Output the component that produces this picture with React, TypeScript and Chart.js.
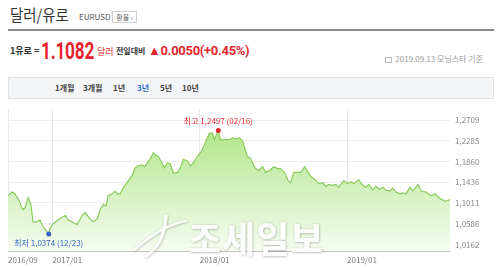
import React, { useEffect, useRef } from "react";
import { Chart, registerables } from "chart.js";
Chart.register(...registerables);

const dates = [
  "2016-09-13","2016-09-23","2016-09-30","2016-10-08","2016-10-20","2016-10-25","2016-11-02","2016-11-09","2016-11-14","2016-11-24",
  "2016-12-01","2016-12-09","2016-12-23","2016-12-26","2017-01-03","2017-01-15","2017-02-02","2017-02-09","2017-02-19","2017-03-03",
  "2017-03-16","2017-03-23","2017-04-05","2017-04-12","2017-04-22","2017-04-29","2017-05-07","2017-05-14","2017-05-19","2017-05-29",
  "2017-06-05","2017-06-11","2017-06-18","2017-06-26","2017-07-05","2017-07-18","2017-07-25","2017-08-02","2017-08-12","2017-08-17",
  "2017-08-24","2017-09-01","2017-09-08","2017-09-13","2017-09-20","2017-09-30","2017-10-05","2017-10-13","2017-10-20","2017-10-28",
  "2017-11-07","2017-11-14","2017-11-22","2017-12-02","2017-12-09","2017-12-16","2017-12-26","2018-01-03","2018-01-10","2018-01-20",
  "2018-01-25","2018-02-02","2018-02-06","2018-02-16","2018-02-21","2018-03-06","2018-03-16","2018-03-23","2018-03-30","2018-04-09",
  "2018-04-17","2018-04-29","2018-05-07","2018-05-19","2018-05-27","2018-06-06","2018-06-13","2018-06-23","2018-07-03","2018-07-13",
  "2018-07-20","2018-07-30","2018-08-07","2018-08-14","2018-08-22","2018-09-01","2018-09-08","2018-09-18","2018-09-28","2018-10-05",
  "2018-10-15","2018-10-23","2018-11-02","2018-11-09","2018-11-17","2018-11-27","2018-12-04","2018-12-11","2018-12-24","2019-01-03",
  "2019-01-10","2019-01-18","2019-01-30","2019-02-07","2019-02-16","2019-02-24","2019-03-06","2019-03-13","2019-03-23","2019-03-31",
  "2019-04-07","2019-04-17","2019-04-24","2019-05-02","2019-05-12","2019-05-19","2019-05-27","2019-06-06","2019-06-13","2019-06-26",
  "2019-07-03","2019-07-15","2019-07-28","2019-08-07","2019-08-19","2019-09-01","2019-09-13"
];

const rates = [
  1.1160,1.1237,1.1199,1.1103,1.0873,1.0912,1.1122,1.0969,1.0625,1.0625,
  1.0663,1.0529,1.0374,1.0491,1.0587,1.0663,1.0759,1.0663,1.0625,1.0568,
  1.0759,1.0816,1.0682,1.0625,1.0682,1.0873,1.0988,1.0950,1.1160,1.1199,
  1.1256,1.1199,1.1199,1.1332,1.1428,1.1581,1.1734,1.1772,1.1791,1.1753,
  1.1829,1.1925,1.2040,1.2002,1.1963,1.1829,1.1734,1.1829,1.1810,1.1619,
  1.1638,1.1734,1.1906,1.1868,1.1772,1.1829,1.1963,1.2040,1.2155,1.2346,
  1.2441,1.2441,1.2307,1.2497,1.2307,1.2307,1.2307,1.2346,1.2327,1.2346,
  1.2288,1.1963,1.1925,1.1715,1.1677,1.1753,1.1638,1.1677,1.1753,1.1715,
  1.1715,1.1638,1.1485,1.1428,1.1638,1.1638,1.1638,1.1753,1.1619,1.1543,
  1.1485,1.1409,1.1428,1.1351,1.1390,1.1371,1.1390,1.1332,1.1466,1.1409,
  1.1447,1.1409,1.1485,1.1390,1.1332,1.1390,1.1275,1.1351,1.1294,1.1332,
  1.1275,1.1256,1.1313,1.1237,1.1199,1.1218,1.1199,1.1332,1.1256,1.1390,
  1.1256,1.1237,1.1160,1.1199,1.1103,1.1046,1.1082
];

const yTicks = [1.2709, 1.2285, 1.1860, 1.1436, 1.1011, 1.0586, 1.0162];
const xTickDates = ["2016-09-13", "2017-01-01", "2018-01-01", "2019-01-01"];
const xTickLabels = ["2016/09", "2017/01", "2018/01", "2019/01"];
const periodTabs = ["1개월", "3개월", "1년", "3년", "5년", "10년"];
const activeTab = "3년";
const peakPoint = { date: "2018-02-16", value: 1.2497, label: "최고 1,2497 (02/16)" };
const lowPoint = { date: "2016-12-23", value: 1.0374, label: "최저 1,0374 (12/23)" };
const startDate = "2016-09-13";
const endDate = "2019-09-13";

function dayOf(s: string): number {
  const [y, m, d] = s.split("-").map(Number);
  const [y0, m0, d0] = startDate.split("-").map(Number);
  return (Date.UTC(y, m - 1, d) - Date.UTC(y0, m0 - 1, d0)) / 86400000;
}

const FONT = '"Noto Sans CJK KR", "Noto Sans", sans-serif';

const markerPlugin = {
  id: "markers",
  afterDatasetsDraw(chart: any) {
    const { ctx, scales } = chart;
    const x = scales.x, y = scales.y;
    const draw = (m: any, color: string, above: boolean) => {
      const px = x.getPixelForValue(dayOf(m.date));
      const py = y.getPixelForValue(m.value);
      ctx.save();
      ctx.fillStyle = color;
      ctx.beginPath();
      ctx.arc(px, py, 2.5, 0, Math.PI * 2);
      ctx.fill();
      ctx.font = "8px " + FONT;
      ctx.textAlign = "center";
      ctx.textBaseline = "middle";
      ctx.fillText(m.label, px, above ? py - 9.5 : py + 9);
      ctx.restore();
    };
    draw(peakPoint, "#e5262f", true);
    draw(lowPoint, "#2f64c0", false);
  },
};

function RateChart() {
  const ref = useRef<HTMLCanvasElement | null>(null);
  useEffect(() => {
    if (!ref.current) return;
    const data = dates.map((d, i) => ({ x: dayOf(d), y: rates[i] }));
    const chart = new Chart(ref.current, {
      type: "line",
      data: {
        datasets: [
          {
            data,
            borderColor: "#8acb5c",
            borderWidth: 1.2,
            pointRadius: 0,
            tension: 0,
            fill: "start",
            backgroundColor: (c: any) => {
              const area = c.chart.chartArea;
              if (!area) return "#cdeeb4";
              const g = c.chart.ctx.createLinearGradient(0, area.top, 0, area.bottom);
              g.addColorStop(0, "#a6e27a");
              g.addColorStop(1, "#f6fcf1");
              return g;
            },
          },
        ],
      },
      options: {
        animation: false,
        responsive: false,
        maintainAspectRatio: false,
        layout: { padding: { left: 8, right: 0, top: 0, bottom: 0 } },
        plugins: { legend: { display: false }, tooltip: { enabled: false } },
        scales: {
          x: {
            type: "linear",
            min: 0,
            max: dayOf(endDate),
            afterBuildTicks: (s: any) => {
              s.ticks = xTickDates.map((d) => ({ value: dayOf(d) }));
            },
            afterFit: (s: any) => {
              s.height = 18;
            },
            grid: { color: "#e8e8e8", drawTicks: false },
            border: { display: true, color: "#c4c4c4" },
            ticks: {
              autoSkip: false,
              maxRotation: 0,
              align: "start",
              padding: 4,
              color: "#777",
              font: { family: FONT, size: 8 },
              callback: (_v: any, i: number) => xTickLabels[i],
            },
          },
          y: {
            position: "right",
            min: 1.0028,
            max: 1.2919,
            afterBuildTicks: (s: any) => {
              s.ticks = yTicks.map((v) => ({ value: v }));
            },
            afterFit: (s: any) => {
              s.width = 50;
            },
            grid: { color: "#eeeeee", drawTicks: false },
            border: { display: false },
            ticks: {
              padding: 5,
              color: "#888",
              font: { family: FONT, size: 8 },
              callback: (v: any) => Number(v).toFixed(4).replace(".", ","),
            },
          },
        },
      },
      plugins: [markerPlugin],
    } as any);
    return () => chart.destroy();
  }, []);
  return (
    <canvas
      ref={ref}
      width={500}
      height={169}
      style={{ position: "absolute", left: 0, top: 100, width: 500, height: 169 }}
    />
  );
}

const tabX = [55, 83, 113, 137, 160, 182];

export default function App() {
  const abs = (s: React.CSSProperties): React.CSSProperties => ({ position: "absolute", whiteSpace: "nowrap", ...s });
  return (
    <div style={{ position: "absolute", left: 0, top: 0, width: 500, height: 269, background: "#fff", overflow: "hidden", fontFamily: FONT }}>
      <div style={abs({ left: 10, top: 3, fontSize: 16, lineHeight: "22px", color: "#333", transform: "scaleX(0.9)", transformOrigin: "left" })}>달러/유로</div>
      <div style={abs({ left: 79, top: 11, fontSize: 8, lineHeight: "12px", color: "#555" })}>EURUSD</div>
      <div style={abs({ left: 112, top: 11, width: 25, height: 12, boxSizing: "border-box", border: "1px solid #cfcfcf", fontSize: 7, lineHeight: "10px", color: "#666", textAlign: "center" })}>환율 ›</div>
      <div style={abs({ left: 8, top: 29, width: 486, height: 2, background: "#8c8c8c" })} />

      <div style={abs({ left: 10, top: 45, fontSize: 9, fontWeight: 700, lineHeight: "12px", color: "#333" })}>1유로 =</div>
      <div style={abs({ left: 41, top: 39, fontSize: 23, fontWeight: 700, lineHeight: "26px", color: "#e5262f", fontFamily: "Roboto, sans-serif", transform: "scaleX(0.75)", transformOrigin: "left", letterSpacing: "-0.3px" })}>1.1082</div>
      <div style={abs({ left: 97, top: 46, fontSize: 9, lineHeight: "12px", color: "#e5262f" })}>달러</div>
      <div style={abs({ left: 116, top: 45, fontSize: 8, fontWeight: 700, lineHeight: "12px", color: "#333" })}>전일대비</div>
      <div style={abs({ left: 148, top: 43, fontSize: 13, fontWeight: 700, lineHeight: "16px", color: "#e5262f", fontFamily: "Roboto, sans-serif", letterSpacing: "-0.3px" })}>▲0.0050(+0.45%)</div>
      <div style={abs({ right: 17, top: 53, fontSize: 8, lineHeight: "11px", color: "#999" })}>
        <span style={{ display: "inline-block", width: 7, height: 6, border: "1px solid #bbb", marginRight: 3, verticalAlign: "middle", boxSizing: "border-box" }} />
        2019.09.13 모닝스타 기준
      </div>

      <div style={abs({ left: 8, top: 77, width: 486, height: 22, boxSizing: "border-box", background: "#f4f5f7", border: "1px solid #dfe1e4" })} />
      {periodTabs.map((t, i) => (
        <div key={t} style={abs({ left: tabX[i], top: 82, fontSize: 8, fontWeight: 700, lineHeight: "12px", color: t === activeTab ? "#2f6fd6" : "#444" })}>{t}</div>
      ))}

      <RateChart />

      <svg width={500} height={269} style={{ position: "absolute", left: 0, top: 0, pointerEvents: "none" }}>
        <defs>
          <filter id="sh" x="-20%" y="-20%" width="140%" height="140%">
            <feDropShadow dx="0.5" dy="0.5" stdDeviation="0.8" floodColor="#000" floodOpacity="0.35" />
          </filter>
        </defs>
        <g filter="url(#sh)" fill="none" stroke="rgba(255,255,255,0.95)" strokeLinecap="round">
          <path d="M134 250 C150 236, 168 224, 186 221" strokeWidth="2" />
          <path d="M166 216 C165 232, 160 247, 146 256" strokeWidth="3" />
        </g>
        <text x={188} y={253} fontFamily={FONT} fontSize={36} fontWeight={700} fill="rgba(255,255,255,0.92)" filter="url(#sh)" letterSpacing="1">조세일보</text>
      </svg>
    </div>
  );
}
